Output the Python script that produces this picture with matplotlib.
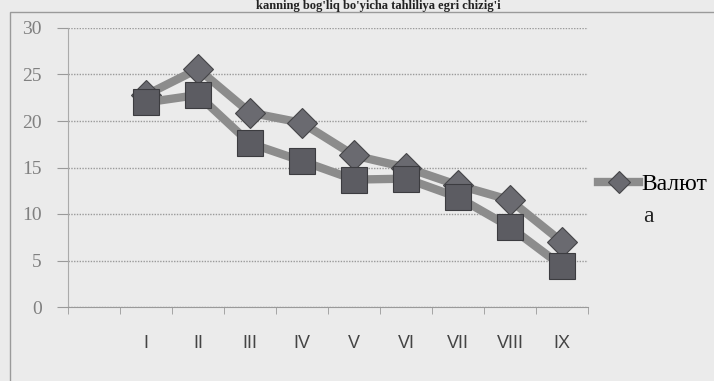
import matplotlib.pyplot as plt
import numpy as np
from matplotlib.patches import Rectangle

# first category slot is empty in the original chart
categories = ["", "I", "II", "III", "IV", "V", "VI", "VII", "VIII", "IX"]
valyuta = [np.nan, 22.8, 25.6, 20.9, 19.8, 16.3, 15.0, 13.1, 11.5, 7.0]
second = [np.nan, 22.0, 22.8, 17.6, 15.7, 13.7, 13.8, 11.8, 8.6, 4.4]
yticks = [0, 5, 10, 15, 20, 25, 30]
title = "kanning bog'liq bo'yicha tahliliya egri chizig'i"
legend_label = ["Валют", "а"]   # label is wrapped in the original

bg = "#ebebeb"
fig = plt.figure(figsize=(7.14, 3.81), dpi=100, facecolor=bg)
ax = fig.add_axes([68 / 714, 1 - 307 / 381, 520 / 714, 279 / 381], facecolor=bg)

# frame of the chart area (scanned page)
fig.patches.append(Rectangle((10 / 714, -0.05), 1.1, 1 - 12 / 381 + 0.05,
                             transform=fig.transFigure, fill=False,
                             edgecolor="#9a9a9a", linewidth=1.0))

x = np.arange(len(categories))

ax.plot(x, valyuta, color="#8c8c8c", linewidth=6, marker="D", markersize=15,
        markerfacecolor="#6a6a70", markeredgecolor="#454548", markeredgewidth=0.8,
        label=legend_label[0], zorder=3)
ax.plot(x, second, color="#8c8c8c", linewidth=6, marker="s", markersize=19,
        markerfacecolor="#5c5c62", markeredgecolor="#3c3c40", markeredgewidth=0.8,
        zorder=4)

ax.set_xlim(-0.5, len(categories) - 0.5)
ax.set_ylim(0, 30)
ax.set_yticks(yticks)
ax.set_yticklabels([str(v) for v in yticks], family="Liberation Serif",
                   fontsize=14, color="#808080")
ax.yaxis.grid(True, color="#9a9a9a", linestyle=(0, (1, 1)), linewidth=1.0)
ax.tick_params(axis="y", length=8, color="#9a9a9a", pad=11)

ax.set_xticks(x)
ax.set_xticklabels(categories, family="Liberation Sans", fontsize=13, color="#444444")
ax.set_xticks(np.arange(-0.5, len(categories)), minor=True)
ax.tick_params(axis="x", which="major", length=0, pad=20)
ax.tick_params(axis="x", which="minor", length=5, color="#999999")

for side in ["top", "right"]:
    ax.spines[side].set_visible(False)
ax.spines["left"].set_color("#aaaaaa")
ax.spines["bottom"].set_color("#9a9a9a")
ax.spines["bottom"].set_linestyle((0, (1, 1)))

leg = fig.legend(loc="center left", bbox_to_anchor=(598 / 714, 1 - 184 / 381),
                 frameon=False, prop={"family": "Liberation Serif", "size": 17},
                 handlelength=1.75, handletextpad=0.1, borderpad=0,
                 borderaxespad=0, markerscale=0.75)
fig.text(643 / 714, 1 - 216 / 381, legend_label[1], ha="left", va="center",
         fontsize=17, family="Liberation Serif", color="#222222")

fig.text(0.53, 1 - 0.5 / 381, title, ha="center", va="top", fontsize=9,
         fontweight="bold", family="Liberation Serif", color="#222222")

fig.savefig("out.png", dpi=100, facecolor=bg)
